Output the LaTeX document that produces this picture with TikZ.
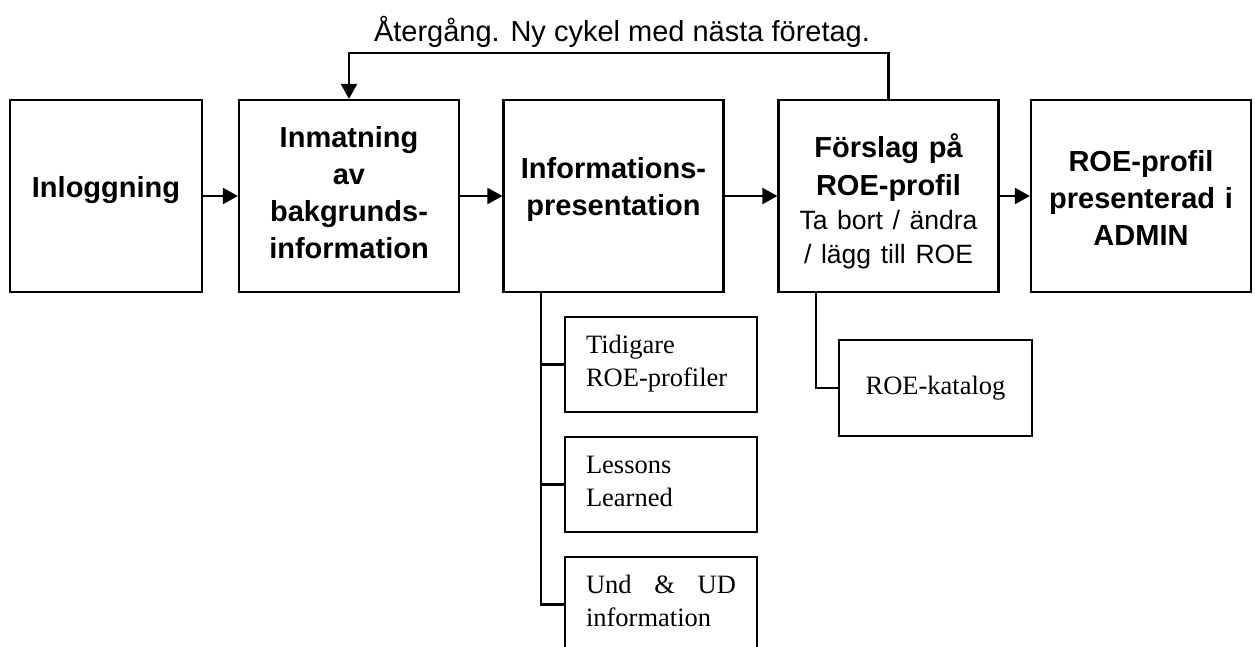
\documentclass[tikz,border=0pt]{standalone}
\usepackage{fontspec}
\setmainfont{Liberation Sans}
\newfontfamily\serifface{Liberation Serif}
\usetikzlibrary{arrows.meta}
\begin{document}
\begin{tikzpicture}[x=1pt,y=-1pt,
  line width=2.2pt,
  stage/.style={draw, line width=2.2pt, inner sep=0pt, align=center,
    text width=214pt, minimum width=220pt,
    font=\bfseries\fontsize{29}{37}\selectfont},
  sub/.style={draw, line width=2.2pt, inner sep=0pt, align=left,
    text width=150pt, minimum width=192pt, text height=36pt, text depth=59pt,
    font=\serifface\fontsize{26.5}{33}\selectfont},
  flow/.style={-{Triangle[length=15pt,width=16pt]}},
  link/.style={line width=2.2pt}]
\useasboundingbox (0,0) rectangle (1255,646);
\clip (0,0) rectangle (1255,646);

% main process stages
\node[stage, text width=186pt, minimum width=192pt, text height=97pt, text depth=95pt]
  (b1) at (106,196) {Inloggning};
\node[stage, text height=47pt, text depth=145pt]
  (b2) at (349,196) {Inmatning\\av\\bakgrunds-\\information};
\node[stage, text height=78pt, text depth=114pt]
  (b3) at (613.5,196) {Informations-\\presentation};
\node[stage, text height=57pt, text depth=135pt]
  (b4) at (888.5,196) {{\fontsize{29}{38}\selectfont F\"orslag p\aa\\ROE-profil\par}%
  {\mdseries\fontsize{26.5}{34}\selectfont Ta bort / \"andra\\/ l\"agg till ROE\par}};
\node[stage, text height=71pt, text depth=121pt]
  (b5) at (1141,196) {ROE-profil\\presenterad i\\ADMIN};

% loop label
\node[anchor=base, inner sep=0pt, font=\fontsize{29}{34}\selectfont]
  (lbl) at (622,41) {\AA terg\aa ng. Ny cykel med n\"asta f\"oretag.};

% supporting information boxes
\node[sub] (s1) at (661,364.5) {Tidigare\\ROE-profiler};
\node[sub] (s2) at (661,484.5) {Lessons\\Learned};
\node[sub] (s3) at (661,604.5) {Und\hfill\&\hfill UD\\information};
\node[draw, line width=2.2pt, inner sep=0pt, minimum width=193pt, minimum height=96pt,
  font=\serifface\fontsize{26.5}{33}\selectfont]
  (cat) at (935.5,388) {ROE-katalog};

% main flow
\draw[flow] (b1) -- (b2);
\draw[flow] (b2) -- (b3);
\draw[flow] (b3) -- (b4);
\draw[flow] (b4) -- (b5);

% return loop
\coordinate (loopR) at (888.5,53);
\draw[flow] (b4.north) -- (loopR) -| (b2.north);

% tree connectors
\coordinate (bus3) at (541,604.5);
\draw[link] (b3.south -| bus3) -- (bus3) -- (s3.west);
\draw[link] (bus3 |- s1.west) -- (s1.west);
\draw[link] (bus3 |- s2.west) -- (s2.west);
\coordinate (bus4) at (816,388);
\draw[link] (b4.south -| bus4) -- (bus4) -- (cat.west);
\end{tikzpicture}
\end{document}
